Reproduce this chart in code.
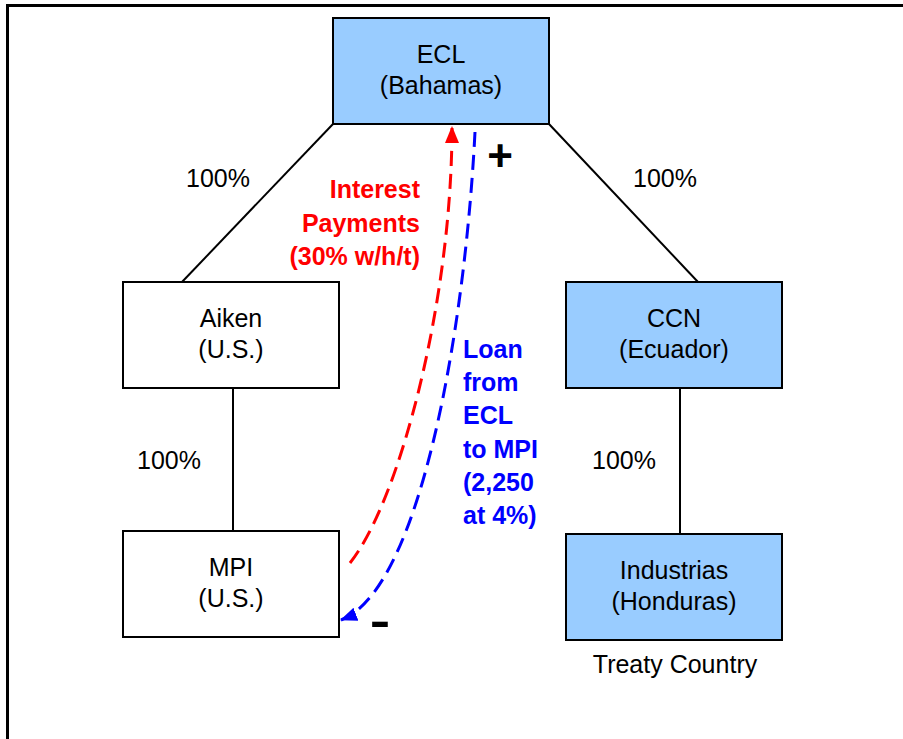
<!DOCTYPE html>
<html>
<head>
<meta charset="utf-8">
<script src="https://cdn.jsdelivr.net/npm/d3@7"></script>
<style>
  html, body { margin: 0; padding: 0; background: #fff; }
  svg { display: block; font-family: Arial, "Liberation Sans", sans-serif; }
</style>
</head>
<body>
<div id="chart"></div>
<script>
// entities in the structure
var entityIds = ["ECL", "Aiken", "CCN", "MPI", "Industrias"]
var entityCountries = ["Bahamas", "U.S.", "Ecuador", "U.S.", "Honduras"]
var entityForeign = [true, false, true, false, true]

// ownership links: parent -> child, with share
var ownParents = ["ECL", "ECL", "Aiken", "CCN"]
var ownChildren = ["Aiken", "CCN", "MPI", "Industrias"]
var ownShares = ["100%", "100%", "100%", "100%"]

// flows between ECL and MPI
var interestLines = ["Interest", "Payments", "(30% w/h/t)"]
var loanLines = ["Loan", "from", "ECL", "to MPI", "(2,250", "at 4%)"]
var treatyNote = "Treaty Country"

/*
 * layout (pixels) kept apart from the data
 */
var W = 903, H = 739
var boxW = 216, boxH = 106
var fontSize = 25
var layout = {
  ECL: { x: 333, y: 18 },
  Aiken: { x: 123, y: 282 },
  CCN: { x: 566, y: 282 },
  MPI: { x: 123, y: 531 },
  Industrias: { x: 566, y: 534 }
}
// where each link meets the child box top (x) and where its label sits
var linkGeom = [
  { fromX: 333, childX: 182, label: [218, 187] },
  { fromX: 549, childX: 698, label: [665, 187] },
  { fromX: 233, childX: 233, label: [169, 469] },
  { fromX: 680, childX: 680, label: [624, 469] }
]

var nodes = entityIds.map(function (id, i) {
  return {
    id: id,
    country: entityCountries[i],
    foreign: entityForeign[i],
    x: layout[id].x,
    y: layout[id].y
  }
})
var byId = {}
nodes.forEach(function (d) { byId[d.id] = d })

var svg = d3
  .select("#chart")
  .append("svg")
  .attr("width", W)
  .attr("height", H)

// outer frame (top and left rules)
svg.append("line")
  .attr("x1", 6).attr("y1", 5.5).attr("x2", W).attr("y2", 5.5)
  .attr("stroke", "#000").attr("stroke-width", 3)
svg.append("line")
  .attr("x1", 7.5).attr("y1", 4).attr("x2", 7.5).attr("y2", H)
  .attr("stroke", "#000").attr("stroke-width", 3)

// arrow markers
var defs = svg.append("defs")
function addMarker(id, color) {
  defs.append("marker")
    .attr("id", id)
    .attr("markerUnits", "userSpaceOnUse")
    .attr("viewBox", "0 -8 17 16")
    .attr("refX", 16)
    .attr("refY", 0)
    .attr("markerWidth", 17)
    .attr("markerHeight", 16)
    .attr("orient", "auto")
    .append("path")
    .attr("d", "M0,-7L17,0L0,7Z")
    .attr("fill", color)
}
addMarker("arrRed", "#ff0000")
addMarker("arrBlue", "#0000ff")

// ownership links
var links = ownParents.map(function (p, i) {
  var parent = byId[p], child = byId[ownChildren[i]]
  return {
    x1: linkGeom[i].fromX,
    y1: parent.y + boxH,
    x2: linkGeom[i].childX,
    y2: child.y,
    share: ownShares[i],
    lx: linkGeom[i].label[0],
    ly: linkGeom[i].label[1]
  }
})

svg.selectAll(".link")
  .data(links)
  .enter()
  .append("line")
  .attr("class", "link")
  .attr("x1", (d) => d.x1)
  .attr("y1", (d) => d.y1)
  .attr("x2", (d) => d.x2)
  .attr("y2", (d) => d.y2)
  .attr("stroke", "#000")
  .attr("stroke-width", 2)

svg.selectAll(".share")
  .data(links)
  .enter()
  .append("text")
  .attr("class", "share")
  .attr("x", (d) => d.lx)
  .attr("y", (d) => d.ly)
  .attr("text-anchor", "middle")
  .attr("font-size", fontSize)
  .text((d) => d.share)

// entity boxes
var box = svg.selectAll(".node")
  .data(nodes)
  .enter()
  .append("g")
  .attr("class", "node")
  .attr("transform", (d) => "translate(" + d.x + "," + d.y + ")")

box.append("rect")
  .attr("width", boxW)
  .attr("height", boxH)
  .attr("fill", (d) => (d.foreign ? "#99ccff" : "#ffffff"))
  .attr("stroke", "#000")
  .attr("stroke-width", 2)

box.append("text")
  .attr("x", boxW / 2)
  .attr("y", boxH / 2 - 8)
  .attr("text-anchor", "middle")
  .attr("font-size", fontSize)
  .text((d) => d.id)

box.append("text")
  .attr("x", boxW / 2)
  .attr("y", boxH / 2 + 23)
  .attr("text-anchor", "middle")
  .attr("font-size", fontSize)
  .text((d) => "(" + d.country + ")")

// treaty note under Industrias
var ind = byId["Industrias"]
svg.append("text")
  .attr("x", ind.x + boxW / 2 + 1)
  .attr("y", ind.y + boxH + 33)
  .attr("text-anchor", "middle")
  .attr("font-size", fontSize)
  .text(treatyNote)

// flows
var ecl = byId["ECL"], mpi = byId["MPI"]

var redPath = d3.path()
redPath.moveTo(mpi.x + boxW + 11, mpi.y + 32)
redPath.bezierCurveTo(400, 500, 452, 300, 452, ecl.y + boxH + 3)

var bluePath = d3.path()
bluePath.moveTo(475, ecl.y + boxH + 8)
bluePath.bezierCurveTo(465, 330, 420, 590, mpi.x + boxW + 2, 620)

svg.append("path")
  .attr("d", redPath.toString())
  .attr("fill", "none")
  .attr("stroke", "#ff0000")
  .attr("stroke-width", 3)
  .attr("stroke-dasharray", "15,8")
  .attr("marker-end", "url(#arrRed)")

svg.append("path")
  .attr("d", bluePath.toString())
  .attr("fill", "none")
  .attr("stroke", "#0000ff")
  .attr("stroke-width", 3)
  .attr("stroke-dasharray", "15,8")
  .attr("marker-end", "url(#arrBlue)")

svg.append("g")
  .selectAll("text")
  .data(interestLines)
  .enter()
  .append("text")
  .attr("x", 420)
  .attr("y", (d, i) => 198 + i * 33.5)
  .attr("text-anchor", "end")
  .attr("font-size", fontSize)
  .attr("font-weight", "bold")
  .attr("fill", "#ff0000")
  .text((d) => d)

svg.append("g")
  .selectAll("text")
  .data(loanLines)
  .enter()
  .append("text")
  .attr("x", 463)
  .attr("y", (d, i) => 358 + i * 33.2)
  .attr("text-anchor", "start")
  .attr("font-size", fontSize)
  .attr("font-weight", "bold")
  .attr("fill", "#0000ff")
  .text((d) => d)

// plus / minus signs
svg.append("text")
  .attr("x", 500)
  .attr("y", 171)
  .attr("text-anchor", "middle")
  .attr("font-size", 44)
  .attr("font-weight", "bold")
  .text("+")

svg.append("text")
  .attr("x", 380)
  .attr("y", 636)
  .attr("text-anchor", "middle")
  .attr("font-size", 44)
  .attr("font-weight", "bold")
  .attr("transform", "translate(380,0) scale(1.4,1) translate(-380,0)")
  .text("-")
</script>
</body>
</html>
